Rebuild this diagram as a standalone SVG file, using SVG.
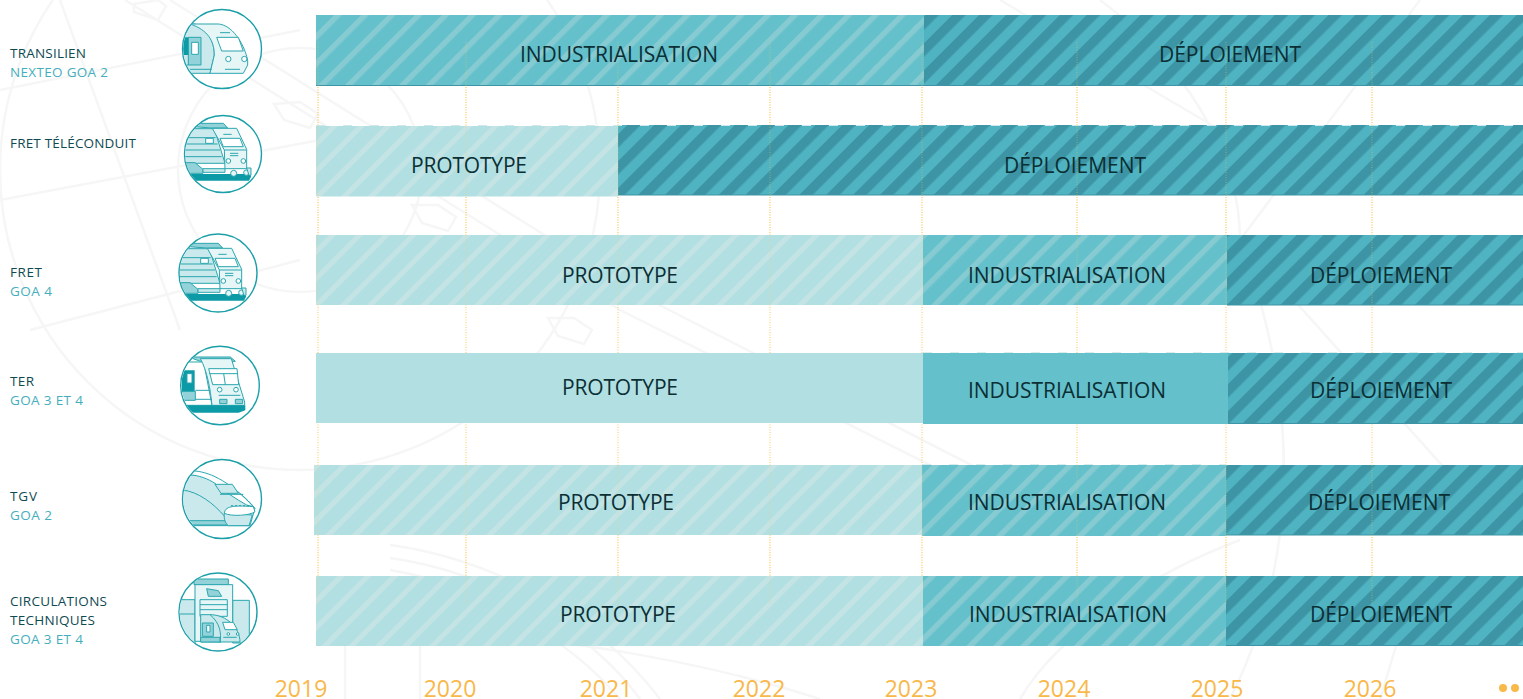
<svg xmlns="http://www.w3.org/2000/svg" width="1523" height="699" viewBox="0 0 1523 699">
<style>
.t{font-family:"Open Sans","Liberation Sans",sans-serif}
.bar{font-size:21px;fill:#0c2f34;text-anchor:middle}
.n{font-size:13.500px;fill:#0f4a52}
.g{font-size:13.500px;fill:#45aebd}
.y{font-size:23px;fill:#f9b84a;text-anchor:middle}
.grid{stroke:#fbc95f;stroke-width:1;stroke-dasharray:1 1.500;fill:none}
.wm{fill:none;stroke:#f6f6f6;stroke-width:2.500}
.edge{fill:#3d94a4}
.dash{fill:none;stroke:#cfe9eb;stroke-width:1.200;stroke-dasharray:9 18}
.ring{fill:#fff;stroke:#1b9fa9;stroke-width:1.400}
.a{stroke:#2aa6af;stroke-width:3;stroke-linejoin:round}
.ic{fill:#c9e9ec}
.il{fill:#e6f6f7}
.iw{fill:#fff}
.im{fill:#93d2d8}
.id{fill:#0c9ba6;stroke:none}
.ln{fill:none}
</style>
<defs>
<pattern id="pl" width="19" height="19" patternUnits="userSpaceOnUse" patternTransform="rotate(45)"><rect width="19" height="19" fill="#b2e0e2"/><rect width="5" height="19" fill="#c4e3e5"/></pattern>
<pattern id="pm" width="19" height="19" patternUnits="userSpaceOnUse" patternTransform="rotate(45)"><rect width="19" height="19" fill="#64c0cb"/><rect width="5.500" height="19" fill="#86cad2"/></pattern>
<pattern id="pd" width="19" height="19" patternUnits="userSpaceOnUse" patternTransform="rotate(45)"><rect width="19" height="19" fill="#4fb3c1"/><rect width="9.500" height="19" fill="#3d94a4"/></pattern>
<clipPath id="c1"><circle cx="222" cy="49" r="38.800"/></clipPath>
<clipPath id="c2"><circle cx="223" cy="154" r="38"/></clipPath>
<clipPath id="c3"><circle cx="218" cy="273" r="38.500"/></clipPath>
<clipPath id="c4"><circle cx="220" cy="385.500" r="38.600"/></clipPath>
<clipPath id="c5"><circle cx="222" cy="499" r="38.800"/></clipPath>
<clipPath id="c6"><circle cx="218" cy="612" r="38.500"/></clipPath>
<g id="loco" class="a">
<path class="im" d="M55 50L72 40H145L158 54H110z"/>
<path class="ic" d="M28 56H118L150 160H28z"/>
<path class="ln" d="M28 83H122M28 102H128M28 120H135M28 140H140"/>
<rect class="iw" x="92" y="85" width="23" height="15"/>
<path class="il" d="M112 55H185L215 118V176H150L148 120z"/>
<path class="iw" d="M135 85H195L205 110H145z"/>
<path class="ln" d="M145 73H170M148 120H215M165 130H190M165 137H190"/>
<circle class="iw" cx="160" cy="153" r="7"/><circle class="iw" cx="205" cy="153" r="7"/>
<path class="im" d="M30 158H60L84 178V190H42z"/>
<path class="ic" d="M84 176H150V187H84z"/>
<path class="id" d="M40 192H228V200L222 212H60z"/>
<circle class="il" cx="176" cy="190" r="9"/><circle class="il" cx="214" cy="188" r="8"/>
<path class="ic" d="M215 174H228V196H222z"/>
</g>
</defs>
<rect width="1523" height="699" fill="#fff"/>
<g id="watermark" class="wm">
<circle cx="300" cy="170" r="300"/><circle cx="300" cy="170" r="122"/>
<path d="M125 0L620 310L1000 500M170 0L640 295L1020 490M0 90L300 30M0 200L320 140M30 330L300 260M60 0L180 330"/>
<path d="M134 4l24 -4 8 6 -8 14 -24 -8zM274 104l26 -2 18 12 -8 14 -26 -8zM412 205l26 0 18 12 -8 14 -26 -8zM548 318l26 0 18 12 -8 14 -26 -8z"/>
<path d="M1000 0L1220 130M1100 0C1180 60 1240 150 1240 240M1420 0L1240 240L1500 530M1240 240C1300 400 1300 560 1230 699M1380 699L1410 600L1480 640"/>
<path d="M390 545C500 560 600 620 660 699M390 558C490 572 590 630 640 699M390 570C480 585 570 640 620 699M345 645V699M420 645V699M520 640C560 640 700 660 820 699M1020 699C1060 630 1160 570 1240 540"/>
</g>
<g id="grid-under" class="grid">
<path d="M318 42V605M466 42V605M618 42V605M770 42V605M922 42V605M1077 42V605M1226 42V605M1372 42V605"/>
</g>
<g id="row-transilien">
<rect x="316" y="15" width="608" height="70.500" fill="url(#pm)"/>
<rect x="924" y="15" width="599" height="70.500" fill="url(#pd)"/>
<rect class="edge" x="316" y="85" width="1207" height="1"/>
</g>
<g id="row-fret-teleconduit">
<rect x="316" y="126" width="302" height="70.500" fill="url(#pl)"/>
<rect x="618" y="125" width="905" height="70" fill="url(#pd)"/>
<rect class="edge" x="618" y="194.500" width="905" height="1"/>
<path class="dash" d="M316 125.500H1523"/>
</g>
<g id="row-fret">
<rect x="316" y="235" width="607" height="70" fill="url(#pl)"/>
<rect x="923" y="235" width="304" height="70" fill="url(#pm)"/>
<rect x="1227" y="235" width="296" height="70" fill="url(#pd)"/>
<rect class="edge" x="1227" y="304.500" width="296" height="1"/>
</g>
<g id="row-ter">
<rect x="316" y="353" width="607" height="70" fill="#b2e0e2"/>
<rect x="923" y="353" width="305" height="71" fill="#64c0cb"/>
<rect x="1228" y="353" width="295" height="71" fill="url(#pd)"/>
<rect class="edge" x="1228" y="423" width="295" height="1"/>
<path class="dash" d="M923 352.500H1523" stroke-opacity=".8"/>
</g>
<g id="row-tgv">
<rect x="314" y="465" width="608" height="70" fill="url(#pl)"/>
<rect x="922" y="465" width="304" height="71" fill="url(#pm)"/>
<rect x="1226" y="465" width="297" height="70" fill="url(#pd)"/>
<rect class="edge" x="1226" y="534.500" width="297" height="1"/>
<path class="dash" d="M922 464.500H1226" stroke-opacity=".8"/>
</g>
<g id="row-circulations">
<rect x="316" y="576" width="607" height="70" fill="url(#pl)"/>
<rect x="923" y="576" width="303" height="70" fill="url(#pm)"/>
<rect x="1226" y="576" width="297" height="70" fill="url(#pd)"/>
<rect class="edge" x="1226" y="645" width="297" height="1"/>
</g>
<g id="grid-over" class="grid" opacity=".45">
<path d="M318 42V305M466 42V305M618 42V305M770 42V305M922 42V305M1077 42V305M1226 42V305M1372 42V305M318 465V605M466 465V605M618 465V605M770 465V605M922 465V605M1077 465V605M1226 465V605M1372 465V605"/>
</g>
<g id="bar-labels">
<text class="t bar" x="619" y="62" textLength="198">INDUSTRIALISATION</text>
<text class="t bar" x="1230" y="62" textLength="142">DÉPLOIEMENT</text>
<text class="t bar" x="469" y="173" textLength="116">PROTOTYPE</text>
<text class="t bar" x="1075" y="173" textLength="142">DÉPLOIEMENT</text>
<text class="t bar" x="620" y="283" textLength="116">PROTOTYPE</text>
<text class="t bar" x="1067" y="283" textLength="198">INDUSTRIALISATION</text>
<text class="t bar" x="1381" y="283" textLength="142">DÉPLOIEMENT</text>
<text class="t bar" x="620" y="394.500" textLength="116">PROTOTYPE</text>
<text class="t bar" x="1067" y="397.500" textLength="198">INDUSTRIALISATION</text>
<text class="t bar" x="1381" y="397.500" textLength="142">DÉPLOIEMENT</text>
<text class="t bar" x="616" y="510" textLength="116">PROTOTYPE</text>
<text class="t bar" x="1067" y="510" textLength="198">INDUSTRIALISATION</text>
<text class="t bar" x="1379" y="510" textLength="142">DÉPLOIEMENT</text>
<text class="t bar" x="618" y="622" textLength="116">PROTOTYPE</text>
<text class="t bar" x="1068" y="622" textLength="198">INDUSTRIALISATION</text>
<text class="t bar" x="1381" y="622" textLength="142">DÉPLOIEMENT</text>
</g>
<g id="labels">
<text class="t n" x="10" y="58" textLength="76">TRANSILIEN</text>
<text class="t g" x="10" y="77" textLength="98">NEXTEO GOA 2</text>
<text class="t n" x="10" y="148" textLength="126">FRET TÉLÉCONDUIT</text>
<text class="t n" x="10" y="277" textLength="32">FRET</text>
<text class="t g" x="10" y="296" textLength="42">GOA 4</text>
<text class="t n" x="10" y="386" textLength="24">TER</text>
<text class="t g" x="10" y="405" textLength="73">GOA 3 ET 4</text>
<text class="t n" x="10" y="501" textLength="27">TGV</text>
<text class="t g" x="10" y="520" textLength="42">GOA 2</text>
<text class="t n" x="10" y="606" textLength="97">CIRCULATIONS</text>
<text class="t n" x="10" y="625" textLength="85">TECHNIQUES</text>
<text class="t g" x="10" y="644" textLength="73">GOA 3 ET 4</text>
</g>
<g id="years">
<text class="t y" x="301" y="697">2019</text>
<text class="t y" x="450" y="697">2020</text>
<text class="t y" x="606" y="697">2021</text>
<text class="t y" x="759" y="697">2022</text>
<text class="t y" x="911" y="697">2023</text>
<text class="t y" x="1064" y="697">2024</text>
<text class="t y" x="1217" y="697">2025</text>
<text class="t y" x="1370" y="697">2026</text>
<circle cx="1503" cy="688" r="4" fill="#f9b84a"/><circle cx="1515" cy="688" r="4" fill="#f9b84a"/>
</g>
<g id="icon-transilien">
<circle class="ring" cx="222" cy="49" r="39.500"/>
<g clip-path="url(#c1)"><g class="a" transform="translate(175 5) scale(.3333)">
<path class="ic" d="M20 57H60C100 75 118 110 118 150L105 205H20z"/>
<path class="il" d="M45 57H130C170 60 205 110 218 165V180L205 205H105L118 150C118 110 100 75 45 57z"/>
<rect class="im" x="40" y="97" width="38" height="83"/>
<rect class="iw" x="50" y="112" width="20" height="36"/>
<path class="id" d="M20 97H40V150H20z"/>
<path class="iw" d="M125 97H190L205 138H140z"/>
<circle class="iw" cx="160" cy="162" r="8"/><circle class="iw" cx="208" cy="162" r="8"/>
<path class="ln" d="M135 83H165M150 193H195M45 193H110M20 180H40"/>
</g></g></g>
<g id="icon-fret-teleconduit">
<circle class="ring" cx="223" cy="154" r="38.500"/>
<g clip-path="url(#c2)"><use href="#loco" transform="translate(175 110) scale(.3333)"/></g></g>
<g id="icon-fret">
<circle class="ring" cx="218" cy="273" r="39"/>
<g clip-path="url(#c3)"><use href="#loco" transform="translate(170 230) scale(.3333)"/></g></g>
<g id="icon-ter">
<circle class="ring" cx="220" cy="385.500" r="39.300"/>
<g clip-path="url(#c4)"><g class="a" transform="translate(172 342) scale(.3333)">
<path class="im" d="M50 45H175L190 58H85z"/>
<path class="iw" d="M25 60H95L120 190H25z"/>
<path class="il" d="M85 50H178L218 180V190H120C115 140 105 85 85 50z"/>
<path class="id" d="M28 85H68V150H28z"/><rect class="iw" x="45" y="95" width="15" height="28"/>
<path class="im" d="M25 148H70V175H25z"/>
<path class="iw" d="M110 80H195L200 128H122z"/>
<path class="ln" d="M112 95H196M155 95L160 128M70 145H115M70 172H120M140 160H205"/>
<circle class="iw" cx="143" cy="143" r="7"/><circle class="iw" cx="192" cy="143" r="7"/>
<rect class="im" x="143" y="172" width="22" height="13"/><rect class="im" x="190" y="172" width="22" height="13"/>
<path class="id" d="M25 190H220V205L200 212H65z"/>
</g></g></g>
<g id="icon-tgv">
<circle class="ring" cx="222" cy="499" r="39.500"/>
<g clip-path="url(#c5)"><g class="a" transform="translate(175 455) scale(.3333)">
<path class="ic" d="M20 60C120 55 190 100 240 160L225 212H20z"/>
<path class="iw" d="M60 48C110 52 170 85 235 155L215 150C180 130 150 110 120 85C100 72 70 60 45 60z"/>
<path class="ic" d="M120 88H172L190 115H138z"/>
<path class="ln" d="M22 105C70 110 115 145 150 185M135 118H205"/>
<path class="im" d="M20 197H150L160 210H20z"/>
<path class="ic" d="M148 175C146 195 152 205 160 212H222L232 180z"/>
<path class="iw" d="M148 175C150 155 170 150 235 155L240 170C225 182 170 185 148 175z"/>
<path class="ln" d="M168 152H228" stroke-dasharray="6 6"/>
</g></g></g>
<g id="icon-circulations">
<circle class="ring" cx="218" cy="612" r="39"/>
<g clip-path="url(#c6)"><g class="a" transform="translate(170 568) scale(.3333)">
<path class="ic" d="M20 95H75V230H20z"/><path class="ln" d="M20 138H75"/>
<path class="ic" d="M188 97H238V225H188z"/>
<rect class="im" x="72" y="33" width="103" height="17"/>
<rect class="il" x="75" y="50" width="113" height="170"/>
<path class="im" d="M110 62L145 68L155 85H115z"/>
<rect class="il" x="90" y="95" width="82" height="50"/>
<path class="ln" d="M90 110H172M90 125H172"/>
<path class="ic" d="M92 140H120C170 140 210 180 210 222H92z"/>
<path class="ln" d="M120 140C150 165 155 195 150 225"/>
<rect class="im" x="97" y="165" width="33" height="40"/><rect class="iw" x="110" y="172" width="10" height="20"/>
<path class="iw" d="M158 163H190L202 185H165z"/>
<circle class="iw" cx="175" cy="198" r="4"/><circle class="iw" cx="203" cy="198" r="4"/>
<path class="im" d="M92 208H150V222H92z"/><path class="ln" d="M160 208H200"/>
</g></g></g>
</svg>
